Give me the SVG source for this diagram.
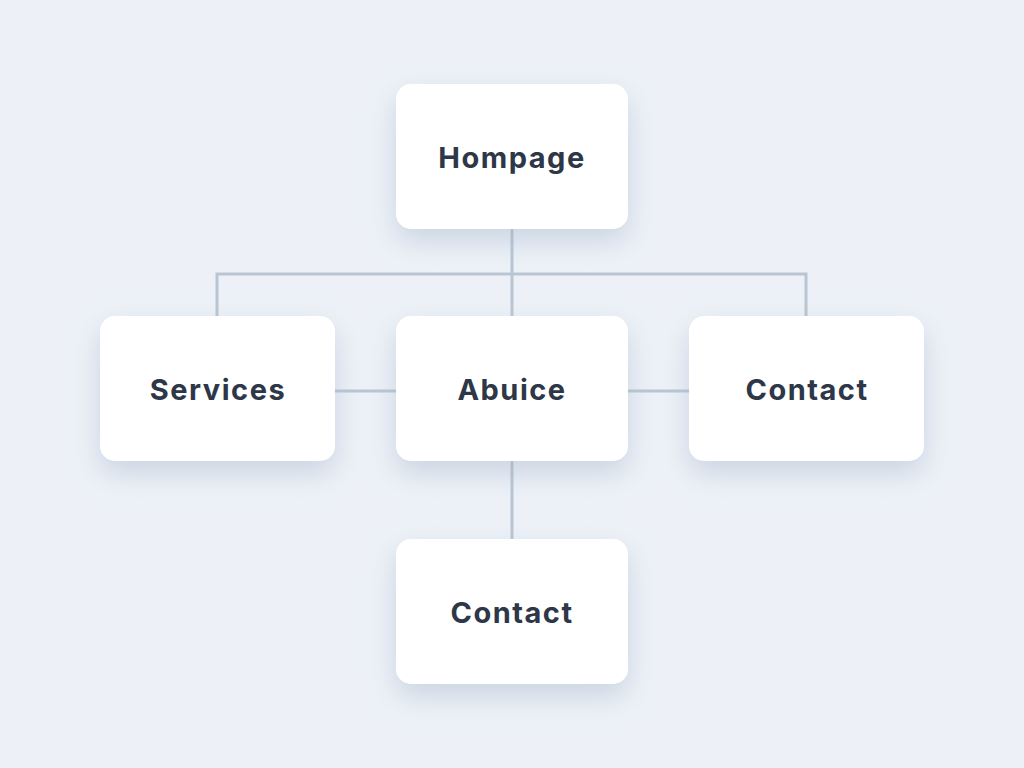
<svg xmlns="http://www.w3.org/2000/svg" width="1024" height="768" viewBox="0 0 1024 768">
<defs>
<filter id="sh" x="-30%" y="-30%" width="160%" height="180%">
<feGaussianBlur in="SourceAlpha" stdDeviation="14"/>
<feOffset dx="0" dy="12" result="b"/>
<feFlood flood-color="#9fb2c8" flood-opacity="0.45"/>
<feComposite in2="b" operator="in"/>
<feMerge><feMergeNode/><feMergeNode in="SourceGraphic"/></feMerge>
</filter>
</defs>
<style>
.box{fill:#ffffff;filter:url(#sh)}
.lbl{font-family:"Inter","Noto Sans","Liberation Sans",sans-serif;font-weight:700;font-size:29px;letter-spacing:1.5px;fill:#2d3748;text-anchor:middle;dominant-baseline:central}
.ln{stroke:#b9c5d2;stroke-width:3;fill:none}
</style>
<rect width="1024" height="768" fill="#edf1f7"/>
<g id="connectors">
<path class="ln" d="M512 229 V316"/>
<path class="ln" d="M217 316 V274 H806 V316"/>
<path class="ln" d="M335 391 H396"/>
<path class="ln" d="M628 391 H689"/>
<path class="ln" d="M512 461 V539"/>
</g>
<g id="hompage"><rect class="box" x="396" y="84" width="232" height="145" rx="15"/><text class="lbl" x="512" y="157">Hompage</text></g>
<g id="services"><rect class="box" x="100" y="316" width="235" height="145" rx="15"/><text class="lbl" x="218" y="389">Services</text></g>
<g id="abuice"><rect class="box" x="396" y="316" width="232" height="145" rx="15"/><text class="lbl" x="512" y="389">Abuice</text></g>
<g id="contact-right"><rect class="box" x="689" y="316" width="235" height="145" rx="15"/><text class="lbl" x="807" y="389">Contact</text></g>
<g id="contact-bottom"><rect class="box" x="396" y="539" width="232" height="145" rx="15"/><text class="lbl" x="512" y="612">Contact</text></g>
</svg>
